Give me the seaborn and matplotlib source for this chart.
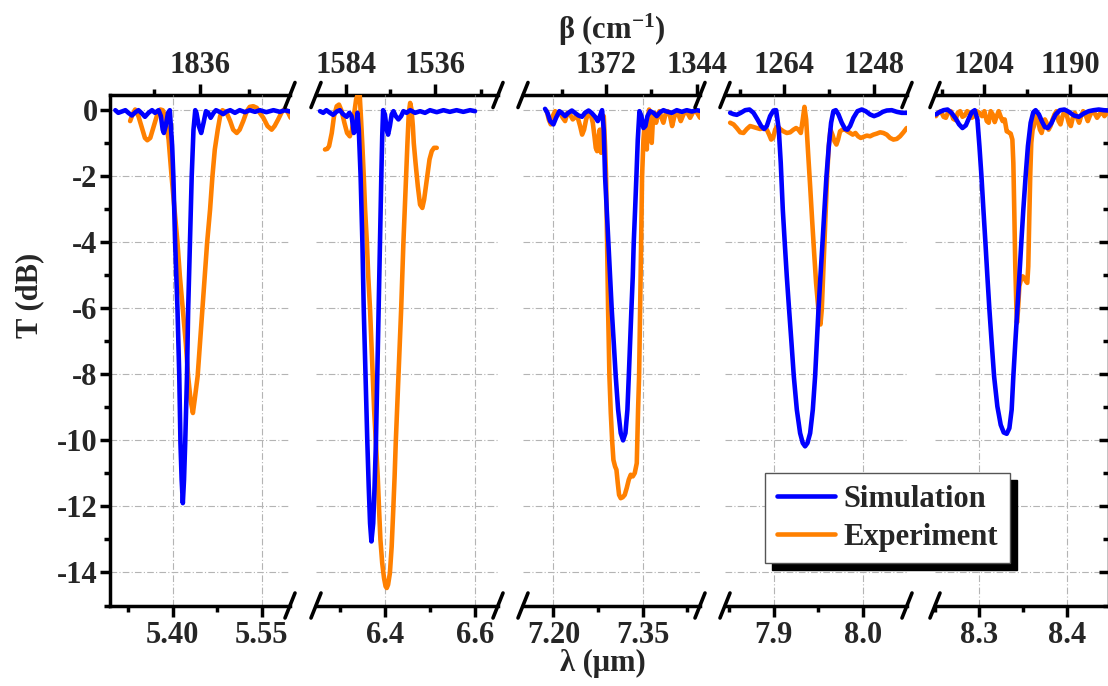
import matplotlib
matplotlib.use("Agg")
import matplotlib.pyplot as plt
from matplotlib.lines import Line2D
from matplotlib.ticker import FixedLocator
import numpy as np
import seaborn as sns

sns.set_theme(style="white")
plt.rcParams['font.family'] = ['Liberation Serif', 'DejaVu Serif']
plt.rcParams['font.weight'] = 'bold'
plt.rcParams['mathtext.fontset'] = 'custom'
plt.rcParams['mathtext.rm'] = 'Liberation Serif:bold'
plt.rcParams['mathtext.bf'] = 'Liberation Serif:bold'
plt.rcParams['mathtext.it'] = 'Liberation Serif:bold:italic'
plt.rcParams['axes.unicode_minus'] = False

# ---------------- data: (wavelength um, transmission dB) ----------------
sim1 = [(5.303,0.00),(5.308,-0.08),(5.314,-0.04),(5.320,0.00),(5.325,-0.08),(5.331,-0.16),(5.337,-0.06),(5.342,0.00),
        (5.348,-0.10),(5.353,-0.20),(5.359,-0.08),(5.365,0.00),(5.370,-0.08),(5.376,0.00),(5.380,-0.18),(5.383,-0.59),
        (5.385,-0.69),(5.388,-0.48),(5.392,-0.08),(5.395,0.00),(5.399,-1.09),(5.401,-2.00),(5.404,-4.02),(5.408,-6.04),
        (5.411,-8.06),(5.413,-10.08),(5.415,-11.19),(5.417,-11.90),(5.419,-11.19),(5.421,-10.08),(5.424,-8.06),(5.426,-6.04),
        (5.429,-4.02),(5.432,-2.00),(5.435,-0.59),(5.438,0.00),(5.440,-0.08),(5.444,-0.48),(5.448,-0.69),(5.452,-0.38),
        (5.456,-0.03),(5.460,-0.08),(5.464,-0.23),(5.469,-0.08),(5.473,0.00),(5.480,-0.06),(5.485,-0.12),(5.491,-0.04),
        (5.497,0.00),(5.505,-0.08),(5.513,0.00),(5.522,-0.06),(5.530,0.00),(5.539,-0.05),(5.547,0.00),(5.558,-0.06),
        (5.570,0.00),(5.581,-0.05),(5.589,0.00),(5.598,-0.04)]
exp1 = [(5.328,-0.33),(5.332,-0.13),(5.3365,0.02),(5.342,-0.18),(5.348,-0.54),(5.353,-0.84),(5.357,-0.91),(5.362,-0.84),
        (5.367,-0.54),(5.373,-0.18),(5.379,0.02),(5.383,0.00),(5.387,-0.18),(5.393,-0.89),(5.398,-2.00),(5.403,-3.01),
        (5.408,-4.02),(5.412,-5.03),(5.417,-6.04),(5.422,-7.05),(5.426,-8.06),(5.430,-8.77),(5.434,-9.17),(5.437,-8.77),
        (5.442,-8.06),(5.446,-7.05),(5.450,-6.04),(5.454,-5.03),(5.458,-4.02),(5.463,-3.01),(5.467,-2.00),(5.471,-1.19),
        (5.476,-0.59),(5.480,-0.18),(5.484,0.00),(5.491,-0.08),(5.497,-0.33),(5.502,-0.59),(5.508,-0.69),(5.513,-0.59),
        (5.519,-0.33),(5.525,-0.03),(5.530,0.10),(5.536,0.12),(5.542,0.07),(5.547,-0.08),(5.553,-0.23),(5.560,-0.48),
        (5.567,-0.59),(5.572,-0.48),(5.578,-0.28),(5.584,-0.06),(5.589,0.04),(5.595,-0.08),(5.599,-0.23)]

sim2 = [(6.256,-0.03),(6.263,-0.08),(6.270,0.00),(6.278,-0.08),(6.285,-0.14),(6.293,-0.04),(6.300,0.00),(6.307,-0.12),
        (6.315,-0.20),(6.321,-0.08),(6.326,-0.18),(6.331,-0.69),(6.336,-0.59),(6.339,-0.08),(6.342,-0.59),(6.346,-2.00),
        (6.350,-4.02),(6.353,-6.04),(6.357,-8.06),(6.361,-10.08),(6.364,-11.39),(6.367,-12.51),(6.370,-13.06),(6.374,-12.51),
        (6.377,-11.39),(6.380,-10.08),(6.383,-8.06),(6.386,-6.04),(6.389,-4.02),(6.392,-2.00),(6.394,-0.79),(6.396,0.00),
        (6.400,-0.13),(6.404,-0.59),(6.407,-0.74),(6.411,-0.48),(6.415,-0.13),(6.419,-0.03),(6.424,-0.18),(6.430,-0.28),
        (6.436,-0.18),(6.441,-0.03),(6.448,-0.08),(6.456,0.00),(6.467,-0.08),(6.478,-0.03),(6.489,-0.08),(6.500,0.00),
        (6.515,-0.06),(6.530,0.00),(6.544,-0.05),(6.559,0.00),(6.574,-0.05),(6.589,0.00),(6.600,-0.03)]
exp2 = [(6.267,-1.19),(6.272,-1.17),(6.276,-1.09),(6.282,-0.69),(6.287,-0.18),(6.293,0.12),(6.298,0.17),(6.304,-0.03),
        (6.310,-0.38),(6.316,-0.69),(6.322,-0.79),(6.327,-0.59),(6.332,-0.08),(6.336,0.32),(6.341,0.53),(6.344,0.47),
        (6.347,-0.28),(6.350,-1.09),(6.353,-2.00),(6.356,-3.01),(6.360,-4.02),(6.363,-5.03),(6.367,-6.04),(6.370,-7.05),
        (6.373,-8.06),(6.376,-9.07),(6.380,-10.08),(6.384,-11.09),(6.387,-12.10),(6.390,-13.01),(6.394,-13.72),(6.398,-14.17),
        (6.4015,-14.42),(6.404,-14.47),(6.407,-14.37),(6.411,-14.02),(6.415,-13.21),(6.4185,-12.10),(6.4215,-11.09),
        (6.424,-10.08),(6.427,-9.07),(6.430,-8.06),(6.433,-7.05),(6.436,-6.04),(6.4385,-5.03),(6.441,-4.02),(6.444,-3.01),
        (6.447,-2.00),(6.450,-0.99),(6.453,-0.08),(6.456,0.22),(6.459,0.02),(6.462,-0.48),(6.464,-0.99),(6.468,-1.60),
        (6.473,-2.30),(6.478,-2.86),(6.483,-2.96),(6.487,-2.71),(6.493,-2.10),(6.499,-1.49),(6.504,-1.24),(6.509,-1.14),
        (6.515,-1.14)]

sim3 = [(7.186,0.04),(7.190,-0.08),(7.1945,-0.33),(7.200,-0.43),(7.2045,-0.23),(7.210,-0.03),(7.214,-0.08),(7.2196,-0.18),
        (7.225,-0.08),(7.231,-0.01),(7.236,-0.08),(7.242,-0.16),(7.248,-0.20),(7.253,-0.08),(7.259,-0.01),(7.264,-0.08),
        (7.270,-0.20),(7.2744,-0.33),(7.278,-0.18),(7.2817,0.00),(7.2845,-0.59),(7.2867,-2.00),(7.2895,-3.01),(7.2923,-4.02),
        (7.2951,-5.03),(7.2979,-6.04),(7.3013,-7.05),(7.3046,-8.06),(7.3086,-9.07),(7.3130,-9.78),(7.3169,-10.00),
        (7.3209,-9.78),(7.3242,-9.07),(7.3265,-8.06),(7.3287,-7.05),(7.3309,-6.04),(7.3332,-5.03),(7.3348,-4.02),
        (7.3371,-3.01),(7.3393,-2.00),(7.3416,-0.89),(7.3444,-0.03),(7.3477,-0.18),(7.3511,-0.54),(7.3544,-0.48),
        (7.3578,-0.18),(7.3623,-0.03),(7.3678,-0.08),(7.3734,-0.18),(7.3790,-0.06),(7.3846,0.00),(7.3902,-0.04),
        (7.3986,-0.08),(7.4070,0.00),(7.4154,-0.05),(7.4238,0.00),(7.4322,-0.04),(7.4406,0.00),(7.4461,-0.02)]
exp3 = [(7.1889,-0.03),(7.1922,-0.28),(7.1956,-0.43),(7.1989,-0.18),(7.2029,-0.03),(7.2068,-0.13),(7.2112,-0.08),
        (7.2157,-0.23),(7.2196,-0.33),(7.2235,-0.08),(7.2280,-0.13),(7.2325,-0.28),(7.2370,-0.20),(7.2414,-0.26),
        (7.2448,-0.48),(7.2482,-0.74),(7.2515,-0.59),(7.2549,-0.28),(7.2588,-0.08),(7.2627,-0.13),(7.2661,-0.38),
        (7.2689,-0.79),(7.2711,-1.14),(7.2733,-1.24),(7.2756,-0.84),(7.2778,-0.59),(7.2800,-1.29),(7.2823,-0.89),
        (7.2845,-0.18),(7.2867,-1.09),(7.2884,-2.00),(7.2901,-4.02),(7.2918,-6.04),(7.2940,-8.06),(7.2963,-9.17),
        (7.2985,-9.98),(7.3007,-10.59),(7.3035,-10.79),(7.3058,-10.89),(7.3080,-11.29),(7.3102,-11.65),(7.3130,-11.75),
        (7.3164,-11.72),(7.3197,-11.65),(7.3231,-11.44),(7.3265,-11.19),(7.3298,-11.04),(7.3332,-11.09),(7.3365,-10.99),
        (7.3399,-10.69),(7.3421,-9.07),(7.3438,-8.06),(7.3455,-6.04),(7.3472,-4.02),(7.3488,-2.00),(7.3511,-0.89),
        (7.3533,-0.38),(7.3550,-0.59),(7.3567,-1.19),(7.3583,-0.28),(7.3606,0.02),(7.3628,-0.59),(7.3650,-0.99),
        (7.3673,-0.18),(7.3695,-0.08),(7.3723,-0.38),(7.3751,-0.13),(7.3779,-0.03),(7.3813,-0.23),(7.3846,-0.38),
        (7.3880,-0.13),(7.3919,-0.03),(7.3958,-0.18),(7.3992,-0.48),(7.4025,-0.23),(7.4059,-0.03),(7.4098,-0.13),
        (7.4137,-0.33),(7.4171,-0.18),(7.4210,-0.03),(7.4249,-0.08),(7.4294,-0.23),(7.4338,-0.08),(7.4383,0.00),
        (7.4428,-0.13),(7.4461,-0.23)]

sim4 = [(7.8508,-0.08),(7.8546,-0.12),(7.8583,-0.14),(7.8628,-0.08),(7.8677,0.00),(7.8726,0.02),(7.8771,-0.08),
        (7.8816,-0.28),(7.8857,-0.48),(7.8891,-0.57),(7.8921,-0.48),(7.8958,-0.18),(7.8996,-0.01),(7.9026,0.00),
        (7.9056,-0.59),(7.9078,-1.60),(7.9101,-3.01),(7.9123,-4.02),(7.9146,-5.03),(7.9172,-6.04),(7.9199,-7.05),
        (7.9225,-8.06),(7.9259,-9.07),(7.9296,-9.78),(7.9326,-10.08),(7.9352,-10.18),(7.9379,-10.08),(7.9409,-9.78),
        (7.9439,-9.07),(7.9465,-8.06),(7.9484,-7.05),(7.9503,-6.04),(7.9525,-5.03),(7.9548,-4.02),(7.9570,-3.01),
        (7.9593,-2.00),(7.9619,-1.09),(7.9645,-0.38),(7.9671,-0.03),(7.9698,0.00),(7.9728,-0.13),(7.9765,-0.38),
        (7.9803,-0.57),(7.9829,-0.59),(7.9859,-0.48),(7.9897,-0.23),(7.9942,-0.03),(7.9990,0.02),(8.0035,-0.03),
        (8.0084,-0.13),(8.0129,-0.18),(8.0178,-0.13),(8.0227,-0.05),(8.0272,-0.01),(8.0328,0.00),(8.0385,-0.05),
        (8.0441,-0.08),(8.0497,-0.08)]
exp4 = [(7.8508,-0.38),(7.8546,-0.43),(7.8583,-0.54),(7.8621,-0.67),(7.8658,-0.69),(7.8696,-0.57),(7.8733,-0.48),
        (7.8771,-0.51),(7.8808,-0.54),(7.8846,-0.57),(7.8883,-0.54),(7.8921,-0.59),(7.8947,-0.74),(7.8970,-0.89),
        (7.8992,-0.84),(7.9015,-0.59),(7.9041,-0.48),(7.9071,-0.57),(7.9108,-0.64),(7.9146,-0.69),(7.9184,-0.67),
        (7.9221,-0.59),(7.9251,-0.54),(7.9277,-0.59),(7.9304,-0.69),(7.9326,-0.28),(7.9345,0.10),(7.9364,-0.28),
        (7.9386,-1.29),(7.9409,-2.30),(7.9431,-3.31),(7.9454,-4.32),(7.9476,-5.23),(7.9499,-5.94),(7.9514,-6.34),
        (7.9525,-6.49),(7.9540,-6.04),(7.9555,-5.03),(7.9570,-4.02),(7.9585,-3.01),(7.9600,-2.00),(7.9619,-1.09),
        (7.9638,-0.59),(7.9660,-0.74),(7.9683,-0.94),(7.9705,-1.04),(7.9724,-0.89),(7.9746,-0.64),(7.9773,-0.59),
        (7.9803,-0.59),(7.9829,-0.64),(7.9859,-0.69),(7.9889,-0.74),(7.9919,-0.69),(7.9949,-0.79),(7.9979,-0.84),
        (8.0009,-0.81),(8.0047,-0.77),(8.0084,-0.79),(8.0122,-0.74),(8.0159,-0.71),(8.0197,-0.67),(8.0234,-0.69),
        (8.0272,-0.74),(8.0309,-0.84),(8.0347,-0.89),(8.0385,-0.87),(8.0422,-0.79),(8.0460,-0.67),(8.0497,-0.54)]

sim5 = [(8.2510,-0.13),(8.2548,-0.06),(8.2597,0.00),(8.2642,0.02),(8.2687,-0.08),(8.2736,-0.26),(8.2773,-0.43),
        (8.2811,-0.54),(8.2849,-0.46),(8.2886,-0.23),(8.2916,-0.06),(8.2950,0.00),(8.2980,-0.28),(8.3003,-1.09),
        (8.3026,-2.00),(8.3048,-3.01),(8.3071,-4.02),(8.3093,-5.03),(8.3116,-6.04),(8.3142,-7.05),(8.3169,-8.06),
        (8.3206,-8.97),(8.3244,-9.53),(8.3278,-9.76),(8.3312,-9.80),(8.3342,-9.63),(8.3368,-9.07),(8.3387,-8.06),
        (8.3409,-7.05),(8.3432,-6.04),(8.3455,-5.03),(8.3477,-4.02),(8.3500,-3.01),(8.3526,-2.00),(8.3552,-1.09),
        (8.3583,-0.38),(8.3613,-0.06),(8.3639,0.00),(8.3677,-0.13),(8.3714,-0.36),(8.3744,-0.51),(8.3778,-0.54),
        (8.3816,-0.40),(8.3865,-0.13),(8.3914,0.00),(8.3966,0.02),(8.4015,-0.05),(8.4072,-0.16),(8.4128,-0.20),
        (8.4185,-0.10),(8.4241,-0.03),(8.4297,0.00),(8.4354,0.02),(8.4410,0.00),(8.4463,-0.01)]
exp5 = [(8.2510,-0.18),(8.2536,-0.08),(8.2567,-0.03),(8.2597,-0.20),(8.2623,-0.23),(8.2649,-0.06),(8.2679,-0.03),
        (8.2706,-0.26),(8.2732,-0.30),(8.2758,-0.08),(8.2785,-0.03),(8.2811,-0.20),(8.2837,-0.16),(8.2864,-0.03),
        (8.2890,-0.08),(8.2916,-0.23),(8.2943,-0.18),(8.2973,-0.03),(8.3003,-0.08),(8.3033,-0.18),(8.3059,-0.03),
        (8.3086,-0.33),(8.3108,-0.38),(8.3131,-0.03),(8.3154,-0.13),(8.3176,-0.36),(8.3199,-0.18),(8.3221,-0.03),
        (8.3244,-0.20),(8.3266,-0.33),(8.3289,-0.28),(8.3312,-0.64),(8.3334,-0.67),(8.3357,-0.71),(8.3376,-0.89),
        (8.3387,-1.60),(8.3398,-3.11),(8.3409,-4.73),(8.3421,-5.94),(8.3428,-6.44),(8.3440,-6.04),(8.3455,-5.33),
        (8.3473,-5.13),(8.3492,-5.03),(8.3511,-5.08),(8.3530,-5.18),(8.3545,-5.23),(8.3556,-4.73),(8.3567,-3.31),
        (8.3579,-1.90),(8.3590,-0.99),(8.3605,-0.59),(8.3620,-0.48),(8.3635,-0.23),(8.3650,-0.13),(8.3669,-0.33),
        (8.3688,-0.59),(8.3707,-0.69),(8.3726,-0.48),(8.3744,-0.28),(8.3763,-0.38),(8.3786,-0.59),(8.3808,-0.48),
        (8.3831,-0.28),(8.3853,-0.13),(8.3876,-0.03),(8.3899,-0.33),(8.3921,-0.43),(8.3944,-0.18),(8.3966,-0.03),
        (8.3989,-0.13),(8.4015,-0.38),(8.4038,-0.48),(8.4060,-0.23),(8.4083,-0.08),(8.4109,-0.23),(8.4132,-0.38),
        (8.4154,-0.18),(8.4177,-0.03),(8.4203,-0.13),(8.4230,-0.33),(8.4252,-0.18),(8.4279,-0.03),(8.4305,-0.08),
        (8.4335,-0.23),(8.4361,-0.13),(8.4392,-0.03),(8.4418,-0.18),(8.4448,-0.08)]

series_names = ['Simulation', 'Experiment']

# axis ranges and ticks per panel
x_ranges = [(5.294, 5.598), (6.247, 6.651), (7.149, 7.446), (7.845, 8.050), (8.251, 8.447)]
lam_major = [[5.40, 5.55], [6.4, 6.6], [7.20, 7.35], [7.9, 8.0], [8.3, 8.4]]
lam_labels = [['5.40', '5.55'], ['6.4', '6.6'], ['7.20', '7.35'], ['7.9', '8.0'], ['8.3', '8.4']]
lam_minor = [[5.325, 5.475], [6.3, 6.5], [7.275, 7.425], [7.85, 7.95], [8.25, 8.35]]
beta_major = [[1836], [1584, 1536], [1372, 1344], [1264, 1248], [1204, 1190]]
beta_labels = [['1836'], ['1584', '1536'], ['1372', '1344'], ['1264', '1248'], ['1204', '1190']]
beta_minor = [[1863, 1809], [1560, 1512], [1386, 1358], [1272, 1256], [1211, 1197]]
t_major = [0, -2, -4, -6, -8, -10, -12, -14]
t_labels = ['0', '-2', '-4', '-6', '-8', '-10', '-12', '-14']
t_minor = [-1, -3, -5, -7, -9, -11, -13, -15]
t_range = (-15, 0.46)

sims = [sim1, sim2, sim3, sim4, sim5]
exps = [exp1, exp2, exp3, exp4, exp5]

BLUE = '#0000FF'
ORANGE = '#FF8000'
LW = 3.3
FS = 22

# ---------------- layout ----------------
W, H = 1108, 686
fig = plt.figure(figsize=(W / 100, H / 100), dpi=100)
edges = [(110, 290), (316, 498), (523, 700), (725, 907), (935, 1109)]
y_top, y_bot = 95, 605.5


def wn(v):
    v = np.asarray(v, dtype=float)
    with np.errstate(divide='ignore'):
        return 1e4 / v


axes = []
for i, (l, r) in enumerate(edges):
    ax = fig.add_axes([l / W, 1 - y_bot / H, (r - l) / W, (y_bot - y_top) / H])
    axes.append(ax)
    ex, sm = exps[i], sims[i]
    sns.lineplot(x=[p[0] for p in ex], y=[p[1] for p in ex], ax=ax, color=ORANGE, lw=LW,
                 sort=False, estimator=None, zorder=3, solid_joinstyle='round', solid_capstyle='round')
    sns.lineplot(x=[p[0] for p in sm], y=[p[1] for p in sm], ax=ax, color=BLUE, lw=LW,
                 sort=False, estimator=None, zorder=4, solid_joinstyle='round', solid_capstyle='round')
    ax.set_xlim(*x_ranges[i])
    ax.set_ylim(*t_range)
    ax.set_xlabel('')
    ax.set_ylabel('')
    ax.set_xticks(lam_major[i])
    ax.set_xticklabels(lam_labels[i])
    ax.set_xticks(lam_minor[i], minor=True)
    ax.set_yticks(t_major)
    ax.set_yticklabels(t_labels)
    ax.set_yticks(t_minor, minor=True)
    ax.set_axisbelow(True)
    ax.grid(True, which='major', color='#b4b4b4', lw=0.8, ls=(0, (6, 2, 1, 2)))
    for s in ax.spines.values():
        s.set_linewidth(2.5)
        s.set_color('black')
    ax.spines['top'].set_visible(False)
    ax.spines['left'].set_visible(i == 0)
    ax.spines['right'].set_visible(i == len(edges) - 1)
    ax.tick_params(axis='x', which='major', direction='out', length=8, width=2.5, pad=3,
                   labelsize=FS, top=False, bottom=True, color='black')
    ax.tick_params(axis='x', which='minor', direction='out', length=4.5, width=2.5,
                   top=False, bottom=True, color='black')
    if i == 0:
        ax.tick_params(axis='y', which='major', direction='out', length=7, width=2.5, pad=2,
                       labelsize=FS, left=True, right=False, color='black')
        ax.tick_params(axis='y', which='minor', direction='out', length=4, width=2.5,
                       left=True, right=False, color='black')
    elif i == len(edges) - 1:
        ax.tick_params(axis='y', which='major', direction='in', length=7, width=2.5,
                       left=False, right=True, labelleft=False, labelright=False, color='black')
        ax.tick_params(axis='y', which='minor', direction='in', length=4, width=2.5,
                       left=False, right=True, color='black')
    else:
        ax.tick_params(axis='y', which='both', left=False, right=False, labelleft=False)

    sec = ax.secondary_xaxis('top', functions=(wn, wn))
    sec.set_xticks(beta_major[i])
    sec.set_xticklabels(beta_labels[i])
    sec.xaxis.set_minor_locator(FixedLocator(beta_minor[i]))
    sec.tick_params(which='major', direction='out', length=8, width=2.5, pad=3, labelsize=FS, color='black')
    sec.tick_params(which='minor', direction='out', length=4.5, width=2.5, color='black')
    sec.spines['top'].set_linewidth(2.5)
    sec.spines['top'].set_color('black')

# break marks
dx, dy = 5 / W, 12.5 / H
for i, (l, r) in enumerate(edges):
    ends = []
    if i > 0:
        ends.append(l)
    if i < len(edges) - 1:
        ends.append(r)
    for xe in ends:
        for ye in (y_top, y_bot):
            xf, yf = xe / W, 1 - ye / H
            fig.add_artist(Line2D([xf - dx, xf + dx], [yf - dy, yf + dy], transform=fig.transFigure,
                                  color='black', lw=2.6, solid_capstyle='round'))

# axis titles
fig.text(30 / W, 1 - 295 / H, 'T (dB)', rotation=90, ha='center', va='center', fontsize=FS, fontweight='bold')
fig.text(603 / W, 1 - 663 / H, 'λ (μm)', ha='center', va='center', fontsize=FS, fontweight='bold')
fig.text(612 / W, 1 - 30 / H, r'β (cm$^{-1}$)', ha='center', va='center', fontsize=FS, fontweight='bold')

# legend
ax0 = axes[0]
handles = [ax0.lines[1], ax0.lines[0]]
leg = fig.legend(handles, series_names, loc='upper left', bbox_to_anchor=(765 / W, 1 - 473 / H),
                 frameon=True, fancybox=False,
                 shadow={'color': 'black', 'alpha': 1.0, 'ox': 5, 'oy': -5},
                 prop={'family': ['Liberation Serif', 'DejaVu Serif'], 'weight': 'bold', 'size': FS},
                 handlelength=1.9, handletextpad=0.3, labelspacing=0.3, borderpad=0.38, borderaxespad=0)
leg.get_frame().set_edgecolor('#555555')
leg.get_frame().set_linewidth(1.0)
leg.get_frame().set_facecolor('white')
leg.get_frame().set_alpha(1.0)

fig.savefig('out.png', dpi=100)
